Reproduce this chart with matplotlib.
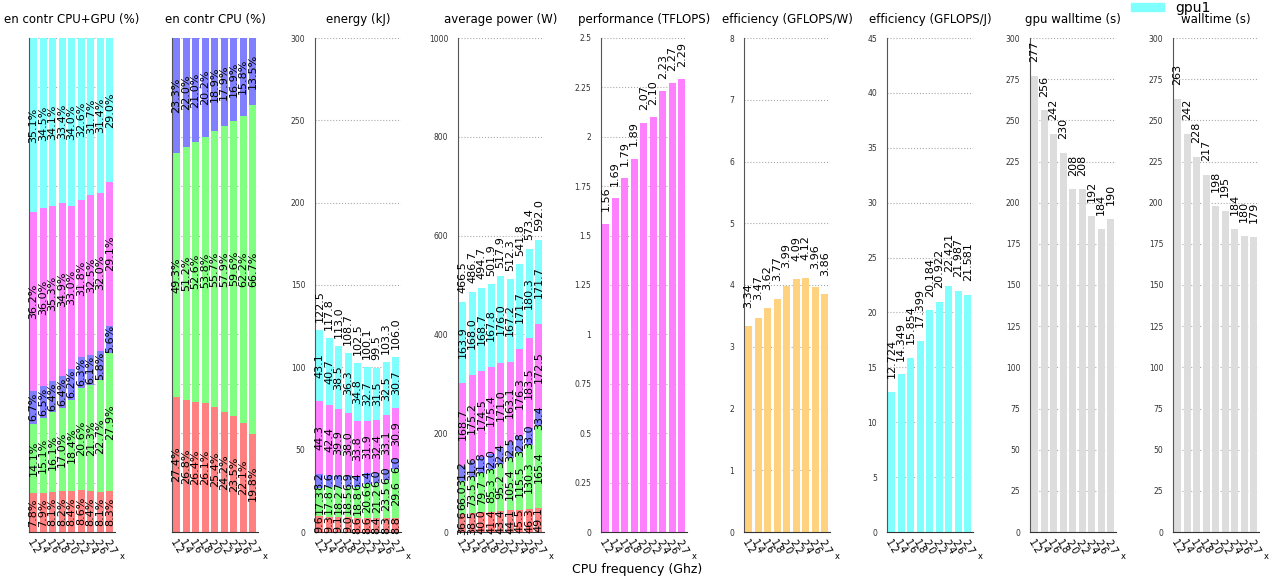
import numpy as np
import matplotlib
matplotlib.use("Agg")
import matplotlib.pyplot as plt
from matplotlib.patches import Patch

freqs = ["1.2", "1.4", "1.6", "1.8", "2.0", "2.2", "2.4", "2.6", "2.7"]

# energy contribution, all devices (%)
pct_all_red = [7.8, 7.9, 8.1, 8.2, 8.4, 8.6, 8.4, 8.1, 8.3]
pct_all_green = [14.1, 15.1, 16.1, 17.0, 18.4, 20.6, 21.3, 22.7, 27.9]
pct_all_blue = [6.7, 6.5, 6.4, 6.4, 6.2, 6.3, 6.1, 5.8, 5.6]
pct_all_gpu0 = [36.2, 36.0, 35.3, 34.9, 33.0, 31.8, 32.5, 32.0, 29.1]
pct_all_gpu1 = [35.1, 34.5, 34.1, 33.4, 34.0, 32.6, 31.7, 31.4, 29.0]

# energy contribution, CPU only (%)
pct_cpu_red = [27.4, 26.8, 26.4, 26.1, 25.4, 24.2, 23.5, 22.1, 19.8]
pct_cpu_green = [49.3, 51.2, 52.6, 53.8, 55.7, 57.9, 59.6, 62.2, 66.7]
pct_cpu_blue = [23.3, 22.0, 21.0, 20.2, 18.9, 17.9, 16.9, 15.8, 13.5]

# energy (kJ)
en_red = [9.6, 9.3, 9.1, 9.0, 8.6, 8.6, 8.4, 8.3, 8.8]
en_green = [17.3, 17.8, 18.2, 18.5, 18.8, 20.6, 21.2, 23.5, 29.6]
en_blue = [8.2, 7.6, 7.3, 6.9, 6.4, 6.4, 6.0, 6.0, 6.0]
en_gpu0 = [44.3, 42.4, 39.9, 38.0, 33.8, 31.9, 32.4, 33.1, 30.9]
en_gpu1 = [43.1, 40.7, 38.5, 36.3, 34.8, 32.7, 31.5, 32.5, 30.7]
en_total = [122.5, 117.8, 113.0, 108.7, 102.5, 100.1, 99.5, 103.3, 106.0]

# average power (W)
pw_red = [36.6, 38.5, 40.0, 41.4, 43.4, 44.1, 45.5, 46.3, 49.1]
pw_green = [66.0, 73.5, 79.7, 85.3, 95.2, 105.4, 115.5, 130.3, 165.4]
pw_blue = [31.2, 31.6, 31.8, 32.0, 32.4, 32.5, 32.8, 33.0, 33.4]
pw_gpu0 = [168.7, 175.2, 174.5, 175.4, 171.0, 163.1, 176.3, 183.5, 172.5]
pw_gpu1 = [163.9, 168.0, 168.7, 167.8, 176.0, 167.2, 171.7, 180.3, 171.7]
pw_total = [466.5, 486.7, 494.7, 501.9, 517.9, 512.3, 541.8, 573.4, 592.0]

perf = [1.56, 1.69, 1.79, 1.89, 2.07, 2.10, 2.23, 2.27, 2.29]
eff_w = [3.34, 3.47, 3.62, 3.77, 3.99, 4.09, 4.12, 3.96, 3.86]
eff_j = [12.724, 14.349, 15.854, 17.399, 20.184, 20.922, 22.421, 21.987, 21.581]
gpu_wall = [277, 256, 242, 230, 208, 208, 192, 184, 190]
wall = [263, 242, 228, 217, 198, 195, 184, 180, 179]

RED, GREEN, BLUE = "#ff8080", "#80ff80", "#8080ff"
MAG, CYAN = "#ff80ff", "#80ffff"
ORANGE, GREY = "#ffd280", "#dddddd"

x = np.arange(len(freqs))
W = 0.75

fig = plt.figure(figsize=(12.75, 5.79), dpi=100)


def setup(ax, title, ylim, step, labels=True, fmt="{:g}"):
    ax.set_xlim(-0.48, len(freqs) - 0.45)
    ax.set_ylim(*ylim)
    ticks = np.arange(ylim[0], ylim[1] + step / 2, step)
    ax.set_yticks(ticks)
    if labels:
        ax.set_yticklabels([fmt.format(t) for t in ticks])
    else:
        ax.set_yticklabels([])
    ax.tick_params(axis="y", length=0, pad=7, labelsize=5.5, labelcolor="#333333")
    ax.set_xticks(x)
    ax.set_xticklabels(freqs, rotation=-60, ha="left", va="top",
                       rotation_mode="anchor", fontsize=7)
    ax.tick_params(axis="x", length=0, pad=4)
    ax.set_xlabel("x", fontsize=6)
    ax.xaxis.set_label_coords(1.09, -0.04)
    ax.grid(axis="y", linestyle=":", color="#aaaaaa", linewidth=0.8)
    ax.set_axisbelow(True)
    for s in ("top", "right"):
        ax.spines[s].set_visible(False)
    ax.spines["left"].set_color("#555555")
    ax.spines["bottom"].set_color("#333333")
    ax.set_title(title, fontsize=8.5, pad=11)


def stacked(ax, layers, colors, fmt):
    bottom = np.zeros(len(x))
    for vals, c in zip(layers, colors):
        vals = np.array(vals)
        ax.bar(x, vals, W, bottom=bottom, color=c)
        for xi, v, b in zip(x, vals, bottom):
            ax.text(xi, b + v / 2, fmt.format(v), rotation=90,
                    ha="center", va="center", fontsize=8)
        bottom = bottom + vals


def top_labels(ax, vals, fmt, off=6):
    for xi, v in zip(x, vals):
        ax.annotate(fmt.format(v), (xi, v), xytext=(0, off),
                    textcoords="offset points", rotation=90,
                    ha="center", va="bottom", fontsize=8)


axes = []
for i in range(9):
    axes.append(fig.add_axes([(29 + 143 * i) / 1275, 47 / 579, 86 / 1275, 494 / 579]))

ax = axes[0]
setup(ax, "en contr CPU+GPU (%)", (0, 100), 10, labels=False)
stacked(ax, [pct_all_red, pct_all_green, pct_all_blue, pct_all_gpu0, pct_all_gpu1],
        [RED, GREEN, BLUE, MAG, CYAN], "{:.1f}%")

ax = axes[1]
setup(ax, "en contr CPU (%)", (0, 100), 10, labels=False)
stacked(ax, [pct_cpu_red, pct_cpu_green, pct_cpu_blue], [RED, GREEN, BLUE], "{:.1f}%")

ax = axes[2]
setup(ax, "energy (kJ)", (0, 300), 50)
stacked(ax, [en_red, en_green, en_blue, en_gpu0, en_gpu1],
        [RED, GREEN, BLUE, MAG, CYAN], "{:.1f}")
top_labels(ax, en_total, "{:.1f}")

ax = axes[3]
setup(ax, "average power (W)", (0, 1000), 200)
stacked(ax, [pw_red, pw_green, pw_blue, pw_gpu0, pw_gpu1],
        [RED, GREEN, BLUE, MAG, CYAN], "{:.1f}")
top_labels(ax, pw_total, "{:.1f}")

ax = axes[4]
setup(ax, "performance (TFLOPS)", (0, 2.5), 0.25)
ax.bar(x, perf, W, color=MAG)
top_labels(ax, perf, "{:.2f}", off=9)

ax = axes[5]
setup(ax, "efficiency (GFLOPS/W)", (0, 8), 1)
ax.bar(x, eff_w, W, color=ORANGE)
top_labels(ax, eff_w, "{:.2f}", off=13)

ax = axes[6]
setup(ax, "efficiency (GFLOPS/J)", (0, 45), 5)
ax.bar(x, eff_j, W, color=CYAN)
top_labels(ax, eff_j, "{:.3f}", off=10)

ax = axes[7]
setup(ax, "gpu walltime (s)", (0, 300), 25)
ax.bar(x, gpu_wall, W, color=GREY)
top_labels(ax, gpu_wall, "{:d}", off=10)

ax = axes[8]
setup(ax, "walltime (s)", (0, 300), 25)
ax.bar(x, wall, W, color=GREY)
top_labels(ax, wall, "{:d}", off=10)

fig.text(637 / 1275, 1 - 570 / 579, "CPU frequency (Ghz)", ha="center", va="center", fontsize=9)

fig.legend(handles=[Patch(color=MAG, label="gpu0"), Patch(color=CYAN, label="gpu1")],
           loc="upper left", bbox_to_anchor=(1118 / 1275, 1.052), frameon=False,
           fontsize=10, handlelength=2.4, handleheight=0.5, labelspacing=0.3)

fig.savefig("out.png", dpi=100)
